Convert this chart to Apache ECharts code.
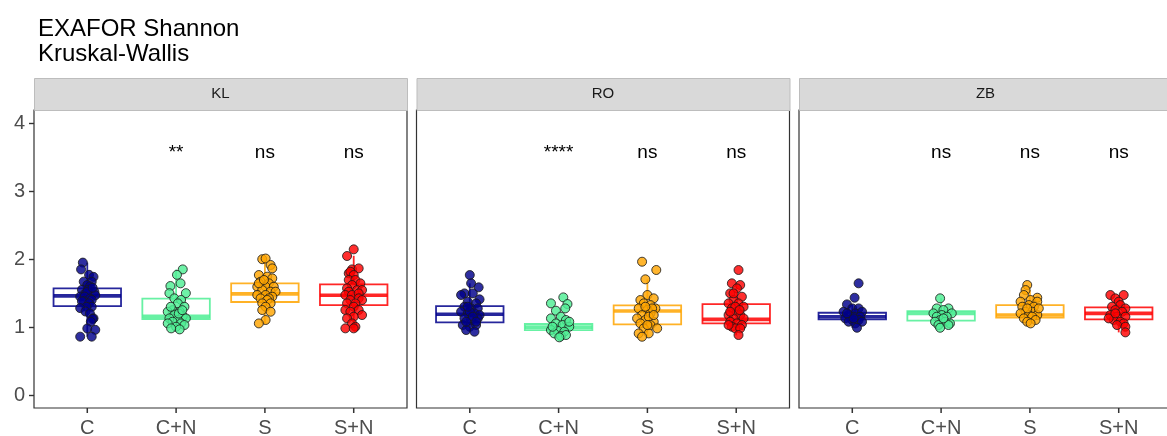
<!DOCTYPE html>
<html>
<head>
<meta charset="utf-8">
<script src="https://cdn.jsdelivr.net/npm/echarts@6/dist/echarts.min.js"></script>
<style>
  html, body { margin: 0; padding: 0; background: #ffffff; }
  #chart { width: 1167px; height: 436px; }
</style>
</head>
<body>
<div id="chart"></div>
<script>
// ---- data ---------------------------------------------------------------
const categories = ['C', 'C+N', 'S', 'S+N'];
const facets = ['KL', 'RO', 'ZB'];
const yTicks = [0, 1, 2, 3, 4];
const groupColors = ['#00008B', '#4EEE94', '#FFA500', '#FF0000'];

// box statistics per group: [lower whisker, Q1, median, Q3, upper whisker]
const boxKL = [
  [0.86, 1.31, 1.46, 1.57, 1.95],
  [0.97, 1.12, 1.16, 1.42, 1.85],
  [1.05, 1.37, 1.49, 1.645, 2.0],
  [0.98, 1.325, 1.47, 1.63, 2.05]
];
const boxRO = [
  [0.93, 1.07, 1.19, 1.31, 1.645],
  [0.85, 0.957, 1.0, 1.046, 1.18],
  [0.86, 1.04, 1.237, 1.32, 1.704],
  [0.88, 1.056, 1.115, 1.34, 1.645]
];
const boxZB = [
  [0.99, 1.115, 1.153, 1.212, 1.335],
  [0.99, 1.095, 1.203, 1.237, 1.424],
  [1.055, 1.14, 1.178, 1.325, 1.546],
  [0.923, 1.115, 1.203, 1.29, 1.473]
];

// significance labels (vs. C) and the height they are written at
const sigKL = ['', '**', 'ns', 'ns'];
const sigRO = ['', '****', 'ns', 'ns'];
const sigZB = ['', 'ns', 'ns', 'ns'];
const sigY = 3.56;

// jittered observations: [horizontal jitter, Shannon index]
const ptsKL_C = [[-0.05,1.95],[-0.07,1.85],[0.02,1.77],[0.07,1.74],[0.05,1.67],[-0.04,1.67],[0.0,1.62],[0.03,1.60],[-0.06,1.55],[0.01,1.55],[0.08,1.52],[-0.02,1.50],[0.0,1.52],[0.09,1.47],[-0.08,1.45],[-0.03,1.45],[0.03,1.42],[0.05,1.40],[-0.04,1.38],[-0.06,1.38],[0.02,1.35],[0.05,1.30],[-0.01,1.30],[-0.08,1.28],[-0.02,1.23],[0.03,1.20],[0.07,1.13],[0.06,1.12],[0.04,1.08],[0.0,0.98],[0.09,0.96],[0.05,0.86],[-0.08,0.86],[0.06,1.58]];
const ptsKL_CN = [[0.075,1.85],[0.01,1.77],[0.05,1.645],[-0.064,1.605],[0.11,1.50],[-0.075,1.50],[-0.02,1.424],[0.056,1.40],[0.02,1.35],[0.094,1.30],[-0.04,1.25],[-0.094,1.227],[0.04,1.227],[-0.02,1.178],[0.075,1.163],[-0.075,1.129],[0.11,1.129],[0.02,1.105],[-0.04,1.08],[0.056,1.055],[-0.094,1.055],[0.094,1.031],[0.0,1.006],[0.04,0.967],[-0.056,0.982],[0.03,1.20],[-0.06,1.30],[0.07,1.25]];
const ptsKL_S = [[-0.03,2.0],[0.008,2.01],[0.064,1.915],[0.083,1.865],[-0.068,1.767],[0.026,1.743],[0.083,1.718],[-0.049,1.669],[0.045,1.645],[-0.086,1.595],[0.008,1.595],[0.1,1.595],[-0.03,1.546],[0.064,1.522],[0.12,1.522],[-0.086,1.473],[0.008,1.473],[0.083,1.448],[-0.049,1.424],[0.045,1.424],[0.026,1.40],[-0.03,1.35],[0.064,1.35],[0.008,1.30],[-0.03,1.252],[0.064,1.227],[0.008,1.105],[-0.068,1.055],[-0.068,1.645],[-0.011,1.694]];
const ptsKL_SN = [[0,2.145],[-0.075,2.047],[-0.019,1.85],[0.056,1.865],[-0.056,1.792],[-0.038,1.816],[0,1.767],[-0.056,1.694],[0.019,1.694],[0.075,1.645],[-0.019,1.62],[-0.075,1.571],[0.038,1.546],[0.094,1.546],[-0.056,1.522],[-0.094,1.473],[-0.019,1.473],[0.056,1.497],[0.056,1.424],[-0.038,1.399],[0.094,1.399],[-0.075,1.35],[0.019,1.35],[0,1.301],[-0.094,1.252],[0.056,1.252],[-0.038,1.227],[0.094,1.178],[0,1.154],[-0.075,1.129],[-0.019,1.055],[0.019,1.006],[-0.094,0.982],[0,0.982]];

const ptsRO_C = [[0,1.767],[0.015,1.645],[0.1,1.586],[-0.06,1.497],[0.034,1.497],[0.11,1.409],[-0.098,1.473],[-0.023,1.375],[0.071,1.35],[-0.06,1.301],[0.015,1.276],[0.09,1.276],[-0.098,1.227],[-0.023,1.203],[0.053,1.203],[0.11,1.178],[-0.06,1.129],[0.015,1.105],[0.09,1.129],[-0.079,1.031],[0,1.006],[0.071,1.031],[-0.041,0.957],[0.053,0.933],[0,1.227],[0.034,1.154],[-0.041,1.08],[0.071,1.08],[-0.023,1.301]];
const ptsRO_CN = [[0.053,1.438],[0.1,1.34],[-0.086,1.35],[0.075,1.276],[-0.03,1.242],[0.026,1.154],[-0.086,1.129],[0.083,1.105],[-0.03,1.055],[0.045,1.031],[0.12,1.006],[-0.086,0.957],[-0.011,0.947],[0.064,0.933],[-0.049,0.908],[0.026,0.869],[0.083,0.884],[0.008,0.85],[0.12,1.08],[-0.068,1.006]];
const ptsRO_S = [[-0.06,1.963],[0.1,1.841],[-0.023,1.704],[0,1.473],[-0.079,1.399],[0.071,1.424],[-0.041,1.35],[0.034,1.325],[-0.098,1.276],[0,1.252],[0.09,1.276],[-0.06,1.178],[0.034,1.203],[-0.116,1.129],[-0.023,1.105],[0.071,1.08],[0.015,1.154],[-0.079,1.055],[0.034,1.031],[-0.041,0.982],[0.11,0.982],[-0.098,0.908],[0.015,0.908],[-0.06,0.859],[0.053,1.276],[-0.023,1.301],[0.071,1.178],[0,1.031]];
const ptsRO_SN = [[0.026,1.841],[-0.049,1.645],[0.045,1.62],[0.008,1.571],[-0.068,1.497],[0.064,1.448],[-0.03,1.399],[-0.086,1.35],[0.026,1.35],[0.083,1.301],[-0.049,1.276],[0.008,1.227],[-0.086,1.178],[0.045,1.178],[-0.03,1.129],[0.083,1.129],[-0.068,1.08],[0.008,1.055],[0.064,1.031],[-0.049,1.006],[-0.011,0.982],[-0.086,1.031],[0.045,0.982],[0.026,0.884],[-0.03,1.497],[-0.011,1.301],[-0.068,1.227],[0.038,1.252]];

const ptsZB_C = [[0.071,1.645],[0.026,1.433],[-0.06,1.335],[0,1.276],[0.071,1.276],[-0.098,1.227],[0.034,1.203],[0.11,1.227],[-0.041,1.178],[0.015,1.154],[0.09,1.154],[-0.079,1.129],[0,1.105],[0.071,1.105],[-0.041,1.08],[0.034,1.055],[0.11,1.08],[0.053,0.991],[0.015,1.129],[-0.06,1.203]];
const ptsZB_CN = [[-0.011,1.424],[-0.049,1.276],[0.083,1.276],[0.026,1.252],[-0.086,1.203],[0.008,1.178],[0.12,1.203],[-0.049,1.154],[0.064,1.154],[-0.011,1.105],[-0.068,1.08],[0.045,1.08],[0.1,1.055],[-0.03,1.031],[-0.011,0.991],[0.083,1.031],[0.026,1.129]];
const ptsZB_S = [[-0.03,1.62],[-0.049,1.546],[-0.068,1.473],[0.083,1.433],[0.008,1.399],[-0.105,1.375],[0.083,1.375],[-0.011,1.325],[-0.086,1.301],[0.045,1.301],[-0.049,1.227],[0.026,1.227],[-0.105,1.203],[-0.011,1.178],[0.083,1.178],[-0.068,1.129],[0.026,1.154],[-0.03,1.08],[0.064,1.105],[0.008,1.055],[0.1,1.276],[-0.03,1.276]];
const ptsZB_SN = [[-0.094,1.473],[0.056,1.473],[-0.038,1.424],[0,1.375],[0.019,1.325],[-0.075,1.301],[0.075,1.276],[-0.038,1.252],[0.038,1.227],[-0.094,1.178],[-0.019,1.154],[0.075,1.154],[-0.056,1.105],[0.019,1.08],[-0.113,1.129],[0.056,1.055],[-0.019,1.031],[0.075,1.006],[0.075,0.923],[-0.038,1.203]];

// ---- assembly -----------------------------------------------------------
const facetBoxes = [boxKL, boxRO, boxZB];
const facetSig = [sigKL, sigRO, sigZB];
const facetPoints = [
  [ptsKL_C, ptsKL_CN, ptsKL_S, ptsKL_SN],
  [ptsRO_C, ptsRO_CN, ptsRO_S, ptsRO_SN],
  [ptsZB_C, ptsZB_CN, ptsZB_S, ptsZB_SN]
];

const FONT = '"Liberation Sans", Arial, Helvetica, sans-serif';
const PANEL_LEFT = [34, 416.5, 799];
const PANEL_W = 373;
const PANEL_TOP = 110;
const PANEL_H = 298;
const STRIP_H = 32;
const BOX_W = 0.76;
const TICK_LEN = 5;
const Y_MIN = -0.19, Y_MAX = 4.196;
const X_MIN = 0.4, X_MAX = 4.6;
const catPos = categories.map((c, i) => i + 1);

const grids = [], xAxes = [], yAxes = [], series = [], graphics = [];

facets.forEach((name, f) => {
  grids.push({
    left: PANEL_LEFT[f], top: PANEL_TOP, width: PANEL_W, height: PANEL_H,
    show: true, backgroundColor: '#ffffff', borderColor: '#333333', borderWidth: 1.2,
    containLabel: false, outerBoundsMode: 'none'
  });
  xAxes.push({
    type: 'value', gridIndex: f, min: X_MIN, max: X_MAX, position: 'bottom',
    axisLine: { show: false, onZero: false },
    splitLine: { show: false },
    axisTick: { show: false },
    axisLabel: {
      show: true, customValues: catPos, margin: 10,
      formatter: v => categories[Math.round(v) - 1] || '',
      color: '#4d4d4d', fontSize: 20, fontFamily: FONT
    }
  });
  yAxes.push({
    type: 'value', gridIndex: f, min: Y_MIN, max: Y_MAX, position: 'left',
    axisLine: { show: false, onZero: false },
    splitLine: { show: false },
    axisTick: { show: f === 0, customValues: yTicks, length: TICK_LEN, lineStyle: { color: '#333333', width: 1.4 } },
    axisLabel: {
      show: f === 0, customValues: yTicks, margin: 9,
      color: '#4d4d4d', fontSize: 20, fontFamily: FONT
    }
  });

  // boxes + whiskers
  series.push({
    type: 'custom', xAxisIndex: f, yAxisIndex: f, z: 2, silent: true,
    data: facetBoxes[f].map((b, i) => [catPos[i]].concat(b)),
    renderItem: (params, api) => {
      const x = api.value(0);
      const lo = api.coord([x, api.value(1)]);
      const q1 = api.coord([x, api.value(2)]);
      const md = api.coord([x, api.value(3)]);
      const q3 = api.coord([x, api.value(4)]);
      const hi = api.coord([x, api.value(5)]);
      const half = api.size([BOX_W, 0])[0] / 2;
      const col = groupColors[params.dataIndex];
      const stroke = { stroke: col, lineWidth: 1.8, opacity: 0.85 };
      return {
        type: 'group',
        children: [
          { type: 'line', shape: { x1: lo[0], y1: lo[1], x2: q1[0], y2: q1[1] }, style: stroke },
          { type: 'line', shape: { x1: q3[0], y1: q3[1], x2: hi[0], y2: hi[1] }, style: stroke },
          { type: 'rect', shape: { x: q3[0] - half, y: q3[1], width: half * 2, height: q1[1] - q3[1] },
            style: Object.assign({ fill: 'rgba(255,255,255,0.6)' }, stroke) },
          { type: 'line', shape: { x1: md[0] - half, y1: md[1], x2: md[0] + half, y2: md[1] },
            style: { stroke: col, lineWidth: 3.6, opacity: 0.85 } }
        ]
      };
    }
  });

  // jittered points
  categories.forEach((c, i) => {
    series.push({
      type: 'scatter', xAxisIndex: f, yAxisIndex: f, z: 3, silent: true,
      symbol: 'circle', symbolSize: 9,
      itemStyle: { color: groupColors[i], opacity: 0.82, borderColor: '#1a1a1a', borderWidth: 1 },
      data: facetPoints[f][i].map(p => [catPos[i] + p[0], p[1]])
    });
  });

  // significance annotations
  series.push({
    type: 'custom', xAxisIndex: f, yAxisIndex: f, z: 4, silent: true,
    data: facetSig[f].map((s, i) => [catPos[i], sigY]),
    renderItem: (params, api) => {
      const p = api.coord([api.value(0), api.value(1)]);
      return {
        type: 'text', x: p[0], y: p[1],
        style: { text: facetSig[f][params.dataIndex], fill: '#000000', fontSize: 19,
                 fontFamily: FONT, align: 'center', verticalAlign: 'middle' }
      };
    }
  });

  // facet strip
  graphics.push({
    type: 'rect', left: PANEL_LEFT[f], top: PANEL_TOP - STRIP_H,
    shape: { width: PANEL_W, height: STRIP_H },
    style: { fill: '#d9d9d9', stroke: '#bdbdbd', lineWidth: 1 }
  });
  graphics.push({
    type: 'text', x: PANEL_LEFT[f] + PANEL_W / 2, y: PANEL_TOP - STRIP_H / 2,
    style: { text: name, fill: '#1a1a1a', fontSize: 15, fontFamily: FONT,
             align: 'center', verticalAlign: 'middle' }
  });
});

const chart = echarts.init(document.getElementById('chart'), null, { renderer: 'canvas' });
chart.setOption({
  backgroundColor: '#ffffff',
  animation: false,
  title: {
    text: 'EXAFOR Shannon\nKruskal-Wallis',
    left: 33, top: 12,
    textStyle: { color: '#000000', fontSize: 24, fontWeight: 'normal', fontFamily: FONT, lineHeight: 25 }
  },
  grid: grids,
  xAxis: xAxes,
  yAxis: yAxes,
  series: series
});

// category ticks below each panel, placed through each panel's own scales
facets.forEach((name, f) => {
  catPos.forEach(x => {
    const p = chart.convertToPixel({ gridIndex: f }, [x, Y_MIN]);
    graphics.push({
      type: 'line', z: 10,
      shape: { x1: p[0], y1: p[1], x2: p[0], y2: p[1] + TICK_LEN },
      style: { stroke: '#333333', lineWidth: 1.5 }
    });
  });
});
chart.setOption({ graphic: graphics });
</script>
</body>
</html>
